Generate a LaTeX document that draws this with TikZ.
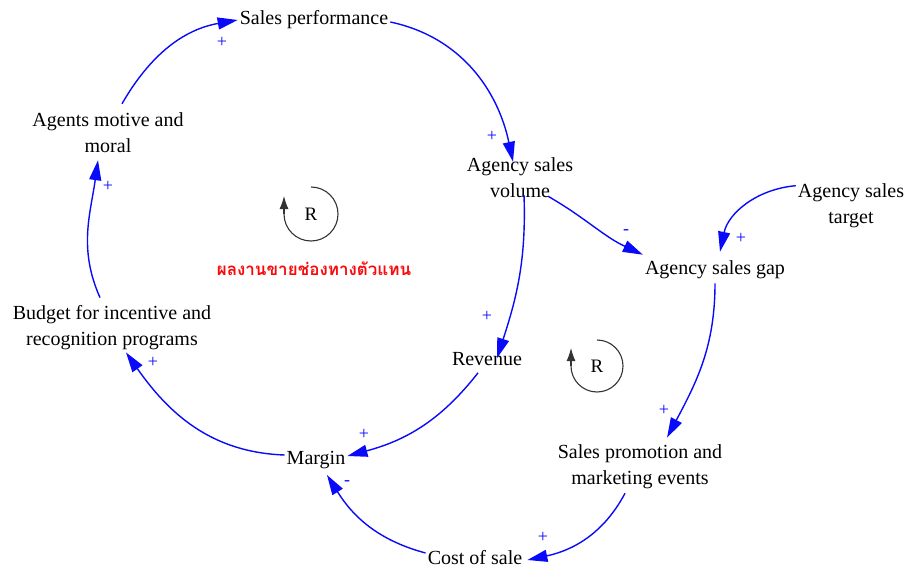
\documentclass[tikz,border=0pt]{standalone}
\usepackage{fontspec}
\setmainfont{Liberation Serif}
\newfontfamily\thaifont[Script=Thai]{Loma}
\usetikzlibrary{arrows.meta}
\definecolor{linkblue}{RGB}{10,10,250}
\definecolor{loopred}{RGB}{250,10,10}

\begin{document}
\begin{tikzpicture}[x=1pt,y=1pt,
  var/.style={align=center, inner sep=2pt, font=\fontsize{20}{26}\selectfont},
  link/.style={draw=linkblue, line width=1.4pt, -{Triangle[length=20pt,width=12pt]}},
  pol/.style={text=linkblue, font=\fontsize{18}{18}\selectfont, inner sep=0pt},
  loopmark/.style={draw=black!80, line width=1.1pt},
  looptip/.style={-{Latex[length=13pt,width=9pt]}},
  looplabel/.style={font=\fontsize{19}{19}\selectfont, inner sep=0pt},
]
\useasboundingbox (0,0) rectangle (909,574);

% variables
\node[var] (sp)      at (314,554) {Sales performance};
\node[var] (agents)  at (108,441) {Agents motive and\\moral};
\node[var] (vol)     at (520,396) {Agency sales\\volume};
\node[var] (target)  at (851,368) {Agency sales\\target};
\node[var] (gap)     at (715,304) {Agency sales gap};
\node[var] (budget)  at (112,246) {Budget for incentive and\\recognition programs};
\node[var] (revenue) at (487,215) {Revenue};
\node[var] (margin)  at (316,114) {Margin};
\node[var] (promo)   at (640,107) {Sales promotion and\\marketing events};
\node[var] (cost)    at (475,16)  {Cost of sale};

% causal links
\draw[link] ([shift={(14,7)}]agents.north) to[out=60,in=190] (sp.west);
\draw[link] ([yshift=-2]sp.east) to[out=-12,in=102] ([shift={(-7,-6)}]vol.north);
\draw[link] ([shift={(4,5)}]vol.south) to[out=-88,in=72] ([shift={(10,-8)}]revenue.north);
\draw[link] ([shift={(28,4)}]vol.south) to[out=-30,in=155] ([yshift=4]gap.north west);
\draw[link] ([yshift=-4]target.north west) to[out=185,in=78] ([shift={(5,7)}]gap.north);
\draw[link] ([yshift=-2]gap.south) to[out=-90,in=62] ([shift={(27,5)}]promo.north);
\draw[link] ([shift={(-15,-2)}]promo.south) to[out=-118,in=12] ([xshift=3,yshift=-2]cost.east);
\draw[link] ([yshift=5]cost.west) to[out=165,in=-58] ([shift={(11,-4)}]margin.south);
\draw[link] ([shift={(-9,-5)}]revenue.south) to[out=-128,in=15] ([yshift=4]margin.east);
\draw[link] ([yshift=5]margin.west) to[out=178,in=-55] ([xshift=14]budget.south);
\draw[link] ([shift={(-12,6)}]budget.north) to[out=114,in=-98] ([shift={(-10,-5)}]agents.south);

% link polarities
\node[pol] (p1)  at (222,532) {+};
\node[pol] (p2)  at (492,438) {+};
\node[pol] (p3)  at (487,258) {+};
\node[pol] (p4)  at (626,342) {-};
\node[pol] (p5)  at (741,336) {+};
\node[pol] (p6)  at (664,164) {+};
\node[pol] (p7)  at (543,37)  {+};
\node[pol] (p8)  at (347,91)  {-};
\node[pol] (p9)  at (364,140) {+};
\node[pol] (p10) at (153,212) {+};
\node[pol] (p11) at (108,388) {+};

% reinforcing loop markers
\node[looplabel] (r1) at (311,360) {R};
\draw[loopmark] ([shift={(90:27)}]r1.center) arc[start angle=90, end angle=-180, radius=27];
\draw[loopmark, looptip] ([xshift=-27]r1.center) -- ++(0,18);
\node[looplabel] (r2) at (597,208) {R};
\draw[loopmark] ([shift={(90:26)}]r2.center) arc[start angle=90, end angle=-180, radius=26];
\draw[loopmark, looptip] ([xshift=-26]r2.center) -- ++(0,18);

\node[text=loopred, font=\thaifont\bfseries\fontsize{17}{17}\selectfont, inner sep=0pt] (loopname) at (314,305) {ผลงานขายช่องทางตัวแทน};
\end{tikzpicture}
\end{document}
